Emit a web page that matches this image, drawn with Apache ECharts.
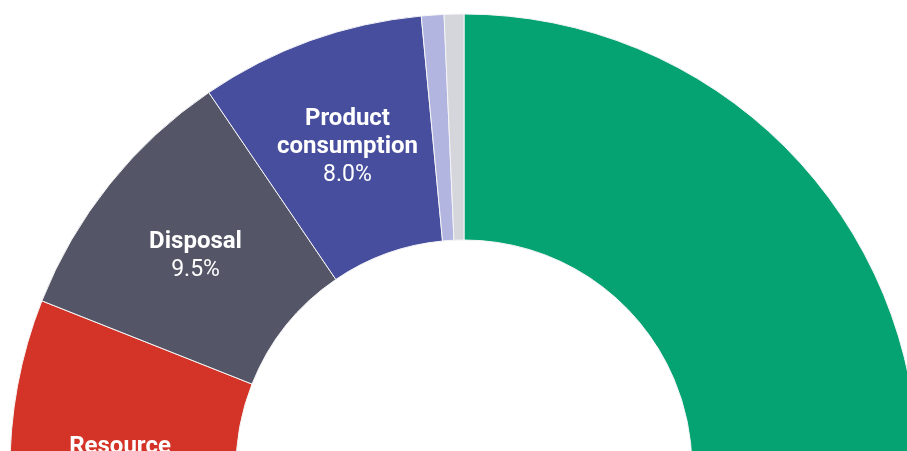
<!DOCTYPE html>
<html>
<head>
<meta charset="utf-8">
<script src="https://cdn.jsdelivr.net/npm/echarts@6/dist/echarts.min.js"></script>
<style>
  html, body { margin: 0; padding: 0; background: #fff; }
  #chart { width: 907px; height: 451px; }
</style>
</head>
<body>
<div id="chart"></div>
<script>
// 各阶段占比（%），顺时针从12点开始
var stages = ['Production', 'Resource\nextraction', 'Disposal', 'Product\nconsumption', 'Transport', 'Other'];
var shares = [68.6, 12.4, 9.5, 8.0, 0.8, 0.7];
var colors = ['#05a371', '#d43427', '#545566', '#474e9d', '#b1b5df', '#d5d6db'];
var showLabel = [true, true, true, true, false, false];

var chart = echarts.init(document.getElementById('chart'));

// 标签：名称加粗，百分比常规
function fmt(p) {
  var lines = p.name.split('\n').map(function (s) { return '{n|' + s + '}'; });
  lines.push('{v|' + p.value.toFixed(1) + '%}');
  return lines.join('\n');
}

var option = {
  animation: false,
  series: [{
    type: 'pie',
    center: [464, 468],
    radius: [228, 454],
    startAngle: 90,
    clockwise: true,
    avoidLabelOverlap: false,
    emphasis: { disabled: true },
    itemStyle: { borderColor: '#f4f4f6', borderWidth: 1 },
    label: {
      show: true,
      position: 'inside',
      formatter: fmt,
      color: '#fff',
      padding: [6, 0, 0, 0],
      rich: {
        n: { fontFamily: 'Roboto', fontWeight: 'bold', fontSize: 24, lineHeight: 28, color: '#fff' },
        v: { fontFamily: 'Roboto', fontWeight: 'normal', fontSize: 23, lineHeight: 28, color: '#fff' }
      }
    },
    labelLine: { show: false },
    data: stages.map(function (s, i) {
      return {
        name: s,
        value: shares[i],
        itemStyle: { color: colors[i] },
        label: { show: showLabel[i] }
      };
    })
  }]
};
chart.setOption(option);
</script>
</body>
</html>
